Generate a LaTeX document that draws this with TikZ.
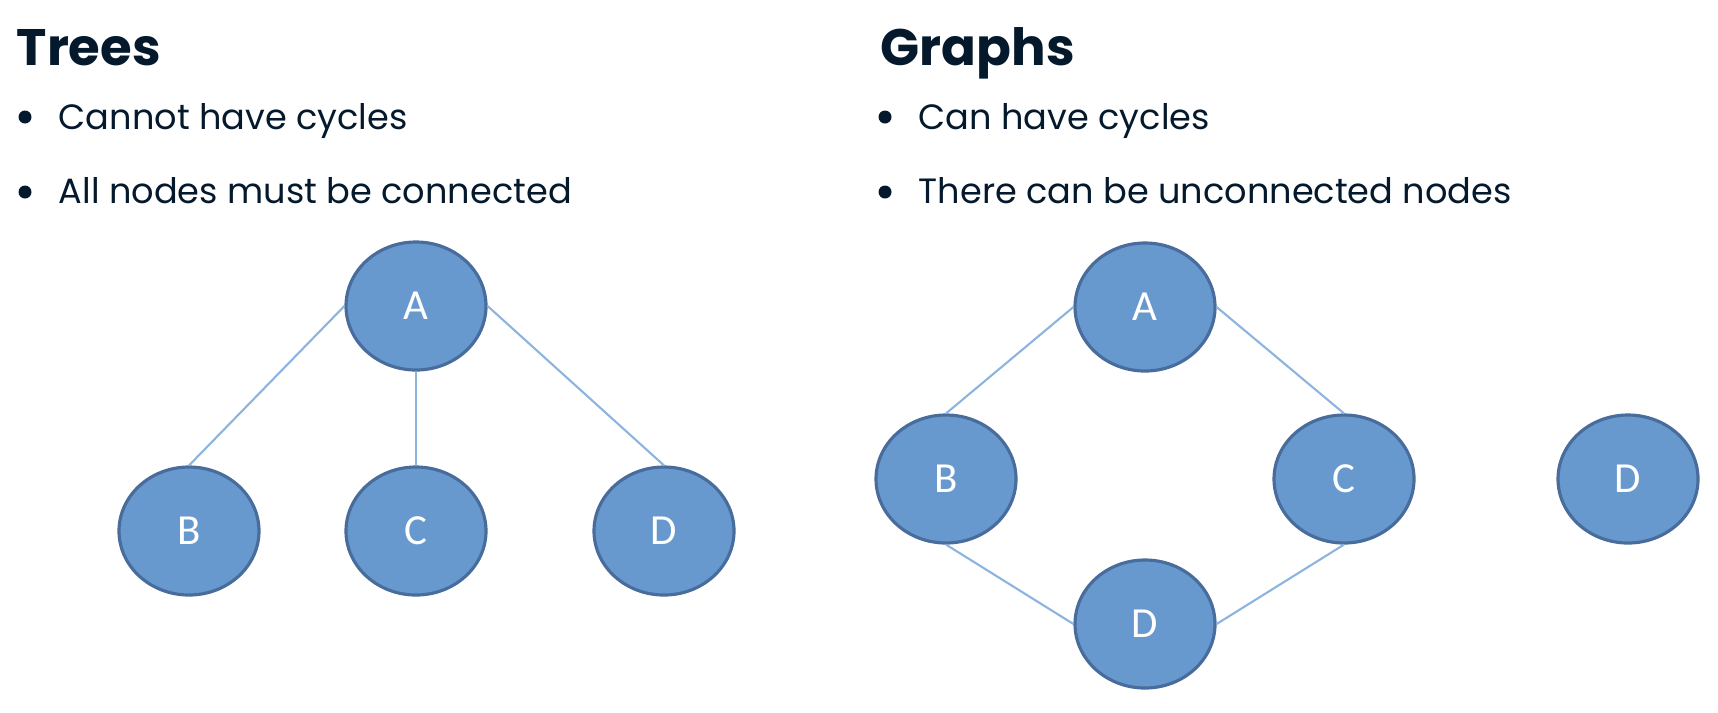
\documentclass[tikz,border=0pt]{standalone}
\usepackage{fontspec}
\setmainfont{Poppins}
\newfontfamily\letterfont{Carlito}
\usetikzlibrary{shapes.geometric}

\definecolor{navy}{HTML}{05192D}
\definecolor{nodefill}{RGB}{104,153,206}
\definecolor{nodeline}{RGB}{72,108,155}
\definecolor{edgeblue}{RGB}{140,180,222}

\begin{document}
\begin{tikzpicture}[
		vertex/.style={ellipse, draw=nodeline, fill=nodefill, line width=0.9pt,
			minimum width=1.40cm, minimum height=1.28cm, inner sep=0pt,
			text=white, font=\letterfont\fontsize{12.2}{14}\selectfont},
		edge/.style={draw=edgeblue, line width=0.6pt},
		heading/.style={anchor=base west, inner sep=0pt, text=navy,
			font=\bfseries\fontsize{14.6}{18}\selectfont},
		item/.style={anchor=base west, inner sep=0pt, text=navy,
			font=\fontsize{10}{12}\selectfont},
		dot/.style={fill=navy, circle, inner sep=0pt, minimum size=0.13cm}
	]

		\useasboundingbox (0,0) rectangle (17.18,-7.12);

		% trees text %
		\node[heading] (treeshead) at (0.16,-0.65) {Trees};
		\node[dot] (treesdot1) at (0.25,-1.17) {};
		\node[item] (treesitem1) at (0.58,-1.29) {Cannot have cycles};
		\node[dot] (treesdot2) at (0.25,-1.92) {};
		\node[item] (treesitem2) at (0.58,-2.03) {All nodes must be connected};

		% graphs text %
		\node[heading] (graphshead) at (8.80,-0.65) {Graphs};
		\node[dot] (graphsdot1) at (8.85,-1.17) {};
		\node[item] (graphsitem1) at (9.18,-1.29) {Can have cycles};
		\node[dot] (graphsdot2) at (8.85,-1.92) {};
		\node[item] (graphsitem2) at (9.18,-2.03) {There can be unconnected nodes};

		% tree %
		\node[vertex] (tA) at (4.16,-3.06) {A};
		\node[vertex] (tB) at (1.89,-5.31) {B};
		\node[vertex] (tC) at (4.16,-5.31) {C};
		\node[vertex] (tD) at (6.64,-5.31) {D};
		\draw[edge] (tA.west) -- (tB.north);
		\draw[edge] (tA.south) -- (tC.north);
		\draw[edge] (tA.east) -- (tD.north);

		% graph %
		\node[vertex] (gA) at (11.45,-3.07) {A};
		\node[vertex] (gB) at (9.46,-4.79) {B};
		\node[vertex] (gC) at (13.44,-4.79) {C};
		\node[vertex] (gD) at (11.45,-6.24) {D};
		\node[vertex] (gE) at (16.28,-4.79) {D};
		\draw[edge] (gA.west) -- (gB.north);
		\draw[edge] (gA.east) -- (gC.north);
		\draw[edge] (gB.south) -- (gD.west);
		\draw[edge] (gC.south) -- (gD.east);

	\end{tikzpicture}
\end{document}
